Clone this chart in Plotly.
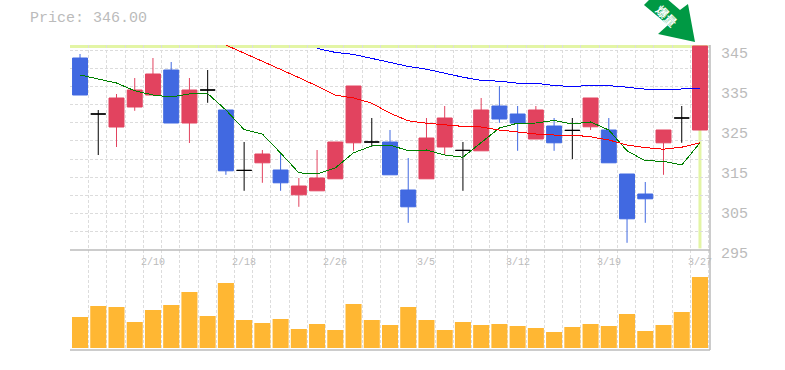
import plotly.graph_objects as go

idx = list(range(35))
date_ticks = [4, 9, 14, 19, 24, 29, 34]
date_labels = ["2/10", "2/18", "2/26", "3/5", "3/12", "3/19", "3/27"]
price_labels = [345, 335, 325, 315, 305, 295]

up_idx = [2, 3, 4, 6, 10, 12, 13, 14, 15, 19, 20, 22, 25, 28, 32, 34]
up_open = [325.75, 330.75, 333.75, 326.75, 316.8, 308.8, 309.8, 312.8, 321.8, 312.8, 320.75, 319.8, 322.75, 325.8, 321.8, 325]
up_high = [334, 338, 343, 338, 320, 313, 320, 322, 336, 328, 331, 333, 331, 333, 325, 346]
up_low = [320.75, 329.8, 333.75, 321.75, 311.8, 305.8, 309.8, 312.8, 319.8, 312.8, 318.75, 319.8, 322.75, 325, 313.8, 325]
up_close = [333, 335, 339, 335, 319, 311, 313, 322, 336, 323, 328, 330, 330, 333, 325, 346]

down_idx = [0, 5, 8, 11, 17, 18, 23, 24, 26, 29, 30, 31]
down_open = [343, 340, 330, 315, 322, 310, 331, 329, 326, 325, 314, 309]
down_high = [344, 342, 330, 319, 325, 318, 336, 331, 328, 328, 314, 312]
down_low = [333.75, 326.75, 313.8, 309.8, 313.8, 301.8, 326.8, 319.8, 319.8, 316.8, 296.8, 301.8]
down_close = [333.75, 326.75, 314.8, 311.8, 313.8, 305.8, 327.75, 326.75, 321.8, 316.8, 302.8, 307.8]

flat_idx = [1, 7, 9, 16, 21, 27, 33]
flat_price = [329, 335, 314.9, 322, 319.9, 324.9, 328]
flat_high = [330, 340, 322, 328, 322, 328, 331]
flat_low = [318.75, 331.8, 309.8, 320.8, 309.8, 317.75, 321.8]

ma_green = [338.75, 337.75, 336.75, 334.8, 333.75, 333.25, 334, 334.1, 330, 325.1, 324, 319.25,
            314.3, 314, 315.5, 319.3, 321, 321.25, 319.8, 320, 318.75, 318.2, 321.75, 325.5,
            326.7, 326.75, 327.4, 326.5, 327, 325, 319.8, 317.3, 317.2, 316.25, 321.8]
ma_red_idx = list(range(8, 35))
ma_red = [346.25, 344.25, 342.1, 340.25, 338.1, 336, 333.7, 333, 331.7, 329.2, 327.3, 326.7, 326.25,
          325.9, 325.75, 325, 324.5, 324, 323.75, 323.75, 323.3, 322.5, 321.25, 320.6, 320.2, 320.7, 321.8]
ma_blue_idx = list(range(13, 35))
ma_blue = [345.4, 344.4, 343.9, 342.9, 341.9, 340.9, 340.2, 339.2, 338.2, 337.4, 337.2, 336.7,
           336.7, 336.1, 335.9, 336.1, 336.1, 335.7, 335.2, 335.2, 335.2, 335.3]

volume = [31, 42, 41, 26, 38, 43, 56, 32, 65, 28, 25, 29, 19, 24, 18, 44, 28, 23,
          41, 28, 18, 26, 23, 24, 22, 20, 16, 21, 24, 22, 34, 17, 23, 36, 71]

W, H = 785, 370
L, R, T, MID, B = 70, 710, 45, 250, 350
RED, BLUE, GRAY = "#e2435f", "#4169e1", "#bbbbbb"
MONO = "Liberation Mono"
DASH = "3px,2px"
X_RANGE = [-0.55, 34.55]

fig = go.Figure()
for ys, xs, c in [(ma_green, idx, "#008000"), (ma_red, ma_red_idx, "#ff0000"), (ma_blue, ma_blue_idx, "#0000ff")]:
    fig.add_trace(go.Scatter(x=xs, y=ys, mode="lines", line=dict(color=c, width=1), hoverinfo="skip",
                             xaxis="x", yaxis="y"))


def candle(xs, o, h, l, c, color):
    side = dict(line=dict(color=color, width=1), fillcolor=color)
    fig.add_trace(go.Candlestick(x=xs, open=o, high=h, low=l, close=c, increasing=side, decreasing=side,
                                 whiskerwidth=0, xaxis="x", yaxis="y"))


candle(up_idx, up_open, up_high, up_low, up_close, RED)
candle(down_idx, down_open, down_high, down_low, down_close, BLUE)
candle(flat_idx, flat_price, flat_high, flat_low, flat_price, "#000000")

fig.add_trace(go.Bar(x=idx, y=volume, marker=dict(color="#ffb733", line=dict(width=0)), width=0.88,
                     xaxis="x2", yaxis="y2"))

grid_x = [-0.53 + i for i in range(36)]
grid_y = [295 + i * 50 / 11 for i in range(12)]
common_x = dict(range=X_RANGE, tickmode="array", tickvals=grid_x, showticklabels=False, ticks="",
                showgrid=True, gridcolor="#dcdcdc", griddash=DASH, gridwidth=1, zeroline=False,
                rangeslider=dict(visible=False))

shapes = [
    dict(type="line", xref="x", yref="y", x0=X_RANGE[0], x1=X_RANGE[1], y0=345.9, y1=345.9,
         line=dict(color="#e3f5a5", width=3), layer="below"),
    dict(type="line", xref="x", yref="y", x0=34, x1=34, y0=345.9, y1=295.4,
         line=dict(color="#e3f5a5", width=3), layer="below"),
    dict(type="line", xref="paper", yref="paper", x0=L / W, x1=R / W, y0=1 - MID / H, y1=1 - MID / H,
         line=dict(color=GRAY, width=1.5)),
    dict(type="line", xref="paper", yref="paper", x0=L / W, x1=R / W, y0=1 - B / H, y1=1 - B / H,
         line=dict(color=GRAY, width=1.5)),
    dict(type="line", xref="paper", yref="paper", x0=R / W, x1=R / W, y0=1 - T / H, y1=1 - B / H,
         line=dict(color=GRAY, width=1.5)),
]
# Marker arrow above the last candle, in paper fractions from pixel outline
arrow = [(644, 5), (651, -2), (666, -2), (680, 10), (688, 4), (695, 42), (658, 34), (668, 25)]
path = "M " + " L ".join(f"{x / W:.5f},{1 - y / H:.5f}" for x, y in arrow) + " Z"
shapes.append(dict(type="path", xref="paper", yref="paper", path=path, fillcolor="#009944", line=dict(width=0)))

ann = [dict(text="Price: 346.00", xref="paper", yref="paper", x=28 / W, y=1 - 18.5 / H, xanchor="left",
            yanchor="middle", showarrow=False, font=dict(family=MONO, size=15, color=GRAY))]
for v in price_labels:
    ann.append(dict(text=str(v), xref="paper", yref="y", x=719 / W, y=v, yshift=-4.5, xanchor="left",
                    yanchor="middle", showarrow=False, font=dict(family=MONO, size=15, color=GRAY)))
for i, t in zip(date_ticks, date_labels):
    ann.append(dict(text=t, xref="x2", yref="paper", x=i, y=1 - 262 / H, xanchor="center", yanchor="middle",
                    showarrow=False, font=dict(family=MONO, size=10, color=GRAY)))
ann.append(dict(text="爆量", xref="paper", yref="paper", x=667 / W, y=1 - 15.5 / H, xanchor="center",
                yanchor="middle", textangle=45, showarrow=False,
                font=dict(family="Noto Sans CJK TC", size=12, color="#ffffff", weight="bold")))

fig.update_layout(
    width=W, height=H, autosize=False, margin=dict(l=0, r=0, t=0, b=0), paper_bgcolor="#ffffff",
    plot_bgcolor="#ffffff", showlegend=False, boxmode="overlay", boxgap=0.18, boxgroupgap=0,
    hovermode=False, shapes=shapes, annotations=ann,
    xaxis=dict(domain=[L / W, R / W], anchor="y", **common_x),
    xaxis2=dict(domain=[L / W, R / W], anchor="y2", **common_x),
    yaxis=dict(domain=[1 - MID / H, 1 - T / H], range=[295, 346.25], anchor="x", tickmode="array", tickvals=grid_y,
               showticklabels=False, showgrid=True, gridcolor="#dcdcdc", griddash=DASH, zeroline=False),
    yaxis2=dict(domain=[1 - B / H, 1 - MID / H], range=[-2, 98], anchor="x2", showticklabels=False,
                showgrid=False, zeroline=False),
)
fig.write_html("out.html", config=dict(displayModeBar=False),
               post_script="document.body.style.margin='0';document.documentElement.style.overflow='hidden';"
                           "document.querySelectorAll('.js-line').forEach(function(p){p.style.shapeRendering='crispEdges';});")
